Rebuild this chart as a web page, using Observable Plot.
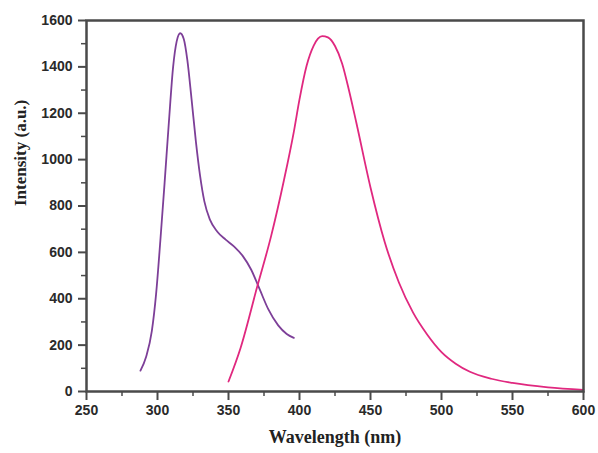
<!DOCTYPE html>
<html>
<head>
<meta charset="utf-8">
<script src="https://cdn.jsdelivr.net/npm/d3@7"></script>
<script src="https://cdn.jsdelivr.net/npm/@observablehq/plot@0.6"></script>
<style>
  html, body { margin: 0; padding: 0; background: #fff; }
  #chart { width: 598px; height: 453px; }
</style>
</head>
<body>
<div id="chart"></div>
<script>
// Excitation spectrum (purple)
const excWavelength = [288, 292, 296, 299, 302, 305, 308, 311, 313.5, 316, 318.5, 321, 324, 327, 330, 333, 337, 342, 348, 354, 360, 366, 372, 378, 385, 391, 396];
const excIntensity  = [90, 150, 260, 420, 650, 900, 1160, 1400, 1510, 1545, 1520, 1430, 1260, 1080, 930, 820, 740, 690, 655, 625, 585, 525, 440, 355, 285, 248, 231];

// Emission spectrum (pink)
const emiWavelength = [350, 358.5, 370, 380, 389, 396, 400, 405, 410, 413, 416, 420, 425, 430, 435, 440, 450, 460, 470, 480, 490, 500, 510, 520, 535, 550, 575, 600];
const emiIntensity  = [43, 188, 447, 670, 910, 1120, 1260, 1405, 1492, 1522, 1533, 1527, 1490, 1415, 1295, 1160, 880, 645, 470, 340, 245, 170, 120, 85, 55, 37, 18, 7];

const xTicks = [250, 300, 350, 400, 450, 500, 550, 600];
const xMinorTicks = [275, 325, 375, 425, 475, 525, 575];
const yTicks = [0, 200, 400, 600, 800, 1000, 1200, 1400, 1600];
const yMinorTicks = [100, 300, 500, 700, 900, 1100, 1300, 1500];

const xLabel = "Wavelength (nm)";
const yLabel = "Intensity (a.u.)";

const excData = excWavelength.map((w, i) => ({w, v: excIntensity[i]}));
const emiData = emiWavelength.map((w, i) => ({w, v: emiIntensity[i]}));

const axisColor = "#4a4a4a";
const sansBold = {fontFamily: "'Liberation Sans', Arial, sans-serif", fontWeight: "bold", fontSize: 14, fill: "#2a2a2a"};
const plain = d => String(d);

const chart = Plot.plot({
  width: 598,
  height: 453,
  marginLeft: 86,
  marginRight: 15,
  marginTop: 20,
  marginBottom: 62,
  style: {background: "#fff", overflow: "visible"},
  x: {domain: [250, 600]},
  y: {domain: [0, 1600]},
  marks: [
    Plot.line(excData, {x: "w", y: "v", stroke: "#7d3f98", strokeWidth: 1.8, curve: "monotone-x"}),
    Plot.line(emiData, {x: "w", y: "v", stroke: "#e0287f", strokeWidth: 1.8, curve: "monotone-x"}),
    Plot.frame({stroke: axisColor, strokeWidth: 2.5}),
    Plot.axisX(xTicks, {tickSize: 9, tickPadding: 5, tickFormat: plain, stroke: axisColor, strokeWidth: 2, label: null, ...sansBold}),
    Plot.axisX(xMinorTicks, {tickSize: 5, tickFormat: () => "", stroke: axisColor, strokeWidth: 1.5, label: null}),
    Plot.axisY(yTicks, {tickSize: 8, tickPadding: 6, tickFormat: plain, stroke: axisColor, strokeWidth: 2, label: null, ...sansBold}),
    Plot.axisY(yMinorTicks, {tickSize: 5, tickFormat: () => "", stroke: axisColor, strokeWidth: 1.5, label: null}),
    Plot.text([xLabel], {text: d => d, frameAnchor: "bottom", dy: 51, fontFamily: "'Liberation Serif', 'Times New Roman', serif", fontWeight: "bold", fontSize: 18, fill: "#222"}),
    Plot.text([yLabel], {text: d => d, frameAnchor: "left", dx: -66, rotate: -90, fontFamily: "'Liberation Serif', 'Times New Roman', serif", fontWeight: "bold", fontSize: 17, fill: "#222"})
  ]
});
document.getElementById("chart").appendChild(chart);
</script>
</body>
</html>
